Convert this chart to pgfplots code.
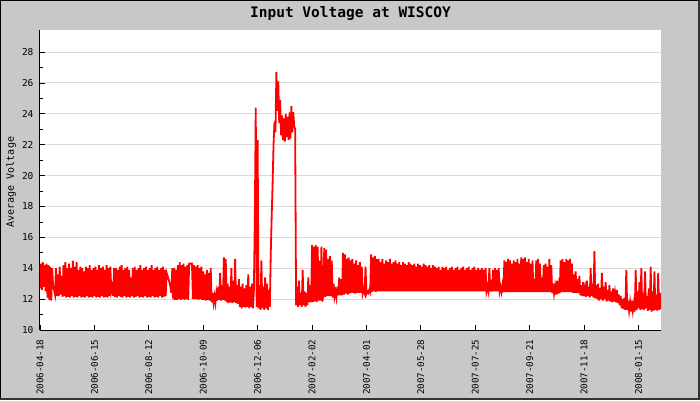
\documentclass[border=0pt]{standalone}
\usepackage{pgfplots}
\pgfplotsset{compat=1.18}
\usepackage{fontspec}
\setmainfont{DejaVu Sans Mono}
\definecolor{bggray}{RGB}{200,200,200}
\definecolor{gridgray}{RGB}{218,218,218}
\begin{document}
\begin{tikzpicture}
\fill[bggray] (-40pt,-70pt) rectangle (660pt,330pt);
\draw[black,line width=1pt] (-39.5pt,-69.5pt) rectangle (659.5pt,329.5pt);
\draw[black!80,line width=2pt] (659pt,-70pt) -- (659pt,330pt);
\draw[black!80,line width=2pt] (-40pt,-69pt) -- (660pt,-69pt);
\begin{axis}[
  at={(0pt,0pt)}, anchor=south west,
  scale only axis, width=621pt, height=300pt,
  xmin=0, xmax=662, ymin=10, ymax=29.43,
  axis background/.style={fill=white},
  axis x line*=bottom, axis y line*=left,
  axis line style={black, line width=1pt},
  tick align=inside,
  major tick length=5pt, minor tick length=3pt,
  tick style={black, line width=0.8pt},
  ytick={10,12,...,28}, minor y tick num=1,
  ymajorgrids, major grid style={gridgray, line width=1pt},
  xtick={0,58,116,174,232,290,348,406,464,522,580,638},
  xticklabels={2006-04-18,2006-06-15,2006-08-12,2006-10-09,2006-12-06,2007-02-02,2007-04-01,2007-05-28,2007-07-25,2007-09-21,2007-11-18,2008-01-15},
  xticklabel style={yshift=-6pt, rotate=90, anchor=east, font=\fontsize{9.2}{10}\selectfont},
  yticklabel style={font=\fontsize{9.5}{10}\selectfont, xshift=-3pt},
  /pgf/number format/assume math mode=true,
  ylabel={Average Voltage},
  every axis y label/.style={at={(axis description cs:0,0.493)}, xshift=-29pt, rotate=90, anchor=center, font=\fontsize{10}{11}\selectfont},
  title={Input Voltage at WISCOY},
  every axis title/.style={at={(axis description cs:0.5,1)}, yshift=17pt, anchor=center, font=\bfseries\fontsize{14.5}{15}\selectfont},
  clip=true,
]
\addplot[red, line width=1.8pt, line join=miter] coordinates {
(0,12.7)(1,14.3)(2,12.6)(3,14.4)(4,12.8)(5,14.2)(6,12.5)(7,14.3)(8,12.1)(9,14.2)
(10,11.95)(11,14.1)(12,11.9)(13,14.0)(14,12.8)(15,12.6)(16,12.3)(17,14.0)(18,12.2)(19,13.6)
(20,12.2)(21,14.1)(22,12.3)(23,13.5)(24,12.15)(25,14.2)(26,12.2)(27,14.4)(28,12.1)(29,14.0)
(30,12.15)(31,14.3)(32,12.1)(33,14.0)(34,12.2)(35,14.5)(36,12.1)(37,14.1)(38,12.15)(39,14.4)
(40,12.1)(41,13.9)(42,12.2)(43,14.1)(44,12.1)(45,14.0)(46,12.15)(47,13.8)(48,12.1)(49,14.1)
(50,12.2)(51,14.0)(52,12.1)(53,14.2)(54,12.15)(55,13.9)(56,12.1)(57,14.0)(58,12.2)(59,14.1)
(60,12.1)(61,13.9)(62,12.15)(63,14.2)(64,12.1)(65,14.0)(66,12.2)(67,14.1)(68,12.1)(69,13.9)
(70,12.15)(71,14.2)(72,12.1)(73,14.0)(74,12.2)(75,14.1)(76,12.5)(77,12.8)(78,12.2)(79,14.0)
(80,12.15)(81,14.0)(82,12.1)(83,13.9)(84,12.2)(85,14.1)(86,12.15)(87,14.2)(88,12.1)(89,13.9)
(90,12.2)(91,14.0)(92,12.1)(93,14.1)(94,12.15)(95,13.9)(96,12.1)(97,13.4)(98,12.2)(99,14.0)
(100,12.1)(101,14.1)(102,12.15)(103,13.9)(104,12.2)(105,14.0)(106,12.1)(107,14.2)(108,12.15)(109,13.9)
(110,12.1)(111,14.0)(112,12.2)(113,14.1)(114,12.1)(115,13.9)(116,12.15)(117,14.0)(118,12.1)(119,14.2)
(120,12.2)(121,13.9)(122,12.1)(123,14.0)(124,12.15)(125,14.1)(126,12.1)(127,13.9)(128,12.2)(129,14.0)
(130,12.1)(131,14.1)(132,12.15)(133,13.9)(134,12.2)(135,13.7)(136,13.5)(137,13.3)(138,13.1)(139,12.8)
(140,12.4)(141,14.0)(142,12.0)(143,14.0)(144,11.95)(145,13.9)(146,11.95)(147,14.2)(148,12.0)(149,14.4)
(150,11.95)(151,14.2)(152,12.0)(153,14.3)(154,11.95)(155,14.1)(156,12.0)(157,14.2)(158,11.95)(159,14.3)
(160,14.3)(161,14.3)(162,14.3)(163,12.0)(164,14.2)(165,12.0)(166,14.1)(167,12.0)(168,14.2)(169,11.95)
(170,14.0)(171,12.0)(172,14.1)(173,11.95)(174,13.8)(175,11.95)(176,13.6)(177,11.9)(178,13.9)(179,11.95)
(180,13.7)(181,11.9)(182,14.0)(183,11.8)(184,12.4)(185,11.75)(186,12.2)(187,11.75)(188,12.4)(189,11.9)
(190,12.8)(191,11.95)(192,13.7)(193,11.9)(194,12.9)(195,11.95)(196,14.7)(197,11.9)(198,14.6)(199,11.8)
(200,13.0)(201,11.75)(202,12.8)(203,11.8)(204,14.0)(205,11.75)(206,13.2)(207,11.8)(208,14.6)(209,11.75)
(210,12.9)(211,11.7)(212,13.3)(213,11.5)(214,12.8)(215,11.4)(216,13.0)(217,11.5)(218,12.7)(219,11.45)
(220,12.9)(221,11.5)(222,13.6)(223,11.4)(224,12.8)(225,11.5)(226,13.0)(227,11.4)(228,12.6)(229,17.2)
(230,24.4)(231,11.5)(232,22.3)(233,11.4)(234,12.9)(235,11.3)(236,14.5)(237,11.4)(238,12.8)(239,11.3)
(240,13.4)(241,11.4)(242,13.0)(243,11.3)(244,12.6)(245,11.5)(246,15.0)(247,17.4)(248,19.6)(249,22.1)
(250,23.5)(251,22.8)(252,26.7)(253,24.2)(254,26.1)(255,23.4)(256,24.9)(257,22.6)(258,23.9)(259,22.3)
(260,23.7)(261,22.2)(262,24.0)(263,22.5)(264,23.8)(265,22.3)(266,24.1)(267,22.4)(268,24.5)(269,22.8)
(270,24.1)(271,23.2)(272,23.0)(273,11.6)(274,12.8)(275,11.5)(276,13.2)(277,11.6)(278,12.4)(279,11.5)
(280,13.9)(281,11.6)(282,12.5)(283,11.5)(284,12.4)(285,11.6)(286,13.4)(287,11.8)(288,12.9)(289,11.8)
(290,15.5)(291,11.8)(292,15.4)(293,11.85)(294,15.5)(295,11.8)(296,15.4)(297,11.9)(298,14.5)(299,11.9)
(300,15.4)(301,11.85)(302,12.2)(303,15.3)(304,12.15)(305,15.2)(306,12.2)(307,14.6)(308,12.2)(309,14.8)
(310,12.2)(311,14.5)(312,12.1)(313,13.0)(314,12.15)(315,12.5)(316,12.1)(317,12.8)(318,12.25)(319,13.4)
(320,12.25)(321,13.3)(322,12.25)(323,15.0)(324,12.3)(325,14.9)(326,12.35)(327,14.6)(328,12.3)(329,14.7)
(330,12.35)(331,14.5)(332,12.4)(333,14.6)(334,12.4)(335,14.3)(336,12.35)(337,14.5)(338,12.4)(339,14.2)
(340,12.4)(341,14.4)(342,12.4)(343,14.1)(344,12.35)(345,12.6)(346,12.4)(347,14.1)(348,12.35)(349,12.5)
(350,12.4)(351,12.6)(352,12.45)(353,14.9)(354,12.45)(355,14.7)(356,12.5)(357,14.8)(358,12.45)(359,14.6)
(360,12.5)(361,14.6)(362,12.5)(363,14.4)(364,12.5)(365,14.6)(366,12.5)(367,14.3)(368,12.5)(369,14.5)
(370,12.5)(371,14.4)(372,12.5)(373,14.6)(374,12.5)(375,14.3)(376,12.5)(377,14.4)(378,12.5)(379,14.5)
(380,12.5)(381,14.3)(382,12.5)(383,14.4)(384,12.5)(385,14.2)(386,12.5)(387,14.4)(388,12.5)(389,14.3)
(390,12.5)(391,14.2)(392,12.5)(393,14.4)(394,12.5)(395,14.3)(396,12.5)(397,14.2)(398,12.5)(399,14.3)
(400,12.5)(401,14.1)(402,12.5)(403,14.3)(404,12.5)(405,14.2)(406,12.5)(407,14.1)(408,12.5)(409,14.3)
(410,12.5)(411,14.2)(412,12.5)(413,14.1)(414,12.5)(415,14.2)(416,12.5)(417,14.0)(418,12.5)(419,14.2)
(420,12.5)(421,14.1)(422,12.5)(423,14.0)(424,12.5)(425,14.1)(426,12.5)(427,13.9)(428,12.5)(429,14.1)
(430,12.5)(431,14.0)(432,12.5)(433,14.1)(434,12.5)(435,13.9)(436,12.5)(437,14.0)(438,12.5)(439,14.1)
(440,12.5)(441,13.9)(442,12.5)(443,14.0)(444,12.5)(445,14.1)(446,12.5)(447,13.9)(448,12.5)(449,14.0)
(450,12.5)(451,14.1)(452,12.5)(453,13.9)(454,12.5)(455,14.0)(456,12.5)(457,14.1)(458,12.5)(459,13.9)
(460,12.5)(461,14.0)(462,12.5)(463,14.1)(464,12.5)(465,13.9)(466,12.5)(467,14.0)(468,12.5)(469,13.9)
(470,12.5)(471,14.0)(472,12.5)(473,13.9)(474,12.5)(475,14.0)(476,12.5)(477,12.8)(478,12.5)(479,14.0)
(480,12.5)(481,12.9)(482,12.5)(483,13.9)(484,12.5)(485,14.0)(486,12.5)(487,13.9)(488,12.5)(489,14.0)
(490,12.5)(491,12.8)(492,12.45)(493,12.9)(494,12.45)(495,14.5)(496,12.45)(497,14.4)(498,12.45)(499,14.6)
(500,12.45)(501,14.5)(502,12.45)(503,14.3)(504,12.45)(505,14.5)(506,12.45)(507,14.4)(508,12.45)(509,14.6)
(510,12.45)(511,14.3)(512,12.45)(513,14.7)(514,12.45)(515,14.6)(516,12.45)(517,14.7)(518,12.45)(519,14.4)
(520,12.45)(521,14.6)(522,12.45)(523,14.3)(524,12.45)(525,14.5)(526,12.45)(527,13.3)(528,12.45)(529,14.5)
(530,12.45)(531,14.6)(532,12.45)(533,14.3)(534,12.45)(535,13.4)(536,12.45)(537,14.2)(538,12.45)(539,14.3)
(540,12.45)(541,14.1)(542,12.45)(543,14.6)(544,12.45)(545,14.2)(546,12.4)(547,13.0)(548,12.35)(549,12.8)
(550,12.3)(551,13.2)(552,12.35)(553,12.9)(554,12.4)(555,14.5)(556,12.45)(557,14.6)(558,12.45)(559,14.4)
(560,12.45)(561,14.6)(562,12.45)(563,14.5)(564,12.45)(565,14.6)(566,12.45)(567,14.3)(568,12.4)(569,13.6)
(570,12.4)(571,13.8)(572,12.4)(573,13.3)(574,12.4)(575,13.5)(576,12.25)(577,12.9)(578,12.2)(579,13.1)
(580,12.2)(581,12.7)(582,12.15)(583,13.2)(584,12.2)(585,12.8)(586,12.1)(587,14.0)(588,12.2)(589,13.0)
(590,12.1)(591,15.1)(592,12.05)(593,12.9)(594,12.0)(595,13.0)(596,11.9)(597,12.7)(598,12.0)(599,13.7)
(600,11.9)(601,12.8)(602,12.0)(603,13.1)(604,11.85)(605,12.6)(606,11.9)(607,12.9)(608,11.85)(609,12.5)
(610,11.8)(611,12.7)(612,11.85)(613,12.4)(614,11.8)(615,12.6)(616,11.75)(617,12.3)(618,11.6)(619,12.2)
(620,11.4)(621,12.0)(622,11.35)(623,12.1)(624,11.3)(625,13.9)(626,11.3)(627,11.9)(628,11.25)(629,11.8)
(630,11.2)(631,11.9)(632,11.25)(633,11.7)(634,11.2)(635,13.9)(636,11.3)(637,12.5)(638,11.4)(639,13.1)
(640,11.3)(641,14.0)(642,11.35)(643,12.4)(644,11.3)(645,13.8)(646,11.4)(647,12.2)(648,11.25)(649,12.7)
(650,11.3)(651,14.1)(652,11.2)(653,12.5)(654,11.25)(655,13.8)(656,11.3)(657,12.3)(658,11.25)(659,13.7)
(660,11.3)(661,12.4)(662,11.35)
};
\end{axis}
\pgfresetboundingbox
\path[use as bounding box] (-40pt,-70pt) rectangle (660pt,330pt);
\end{tikzpicture}
\end{document}
